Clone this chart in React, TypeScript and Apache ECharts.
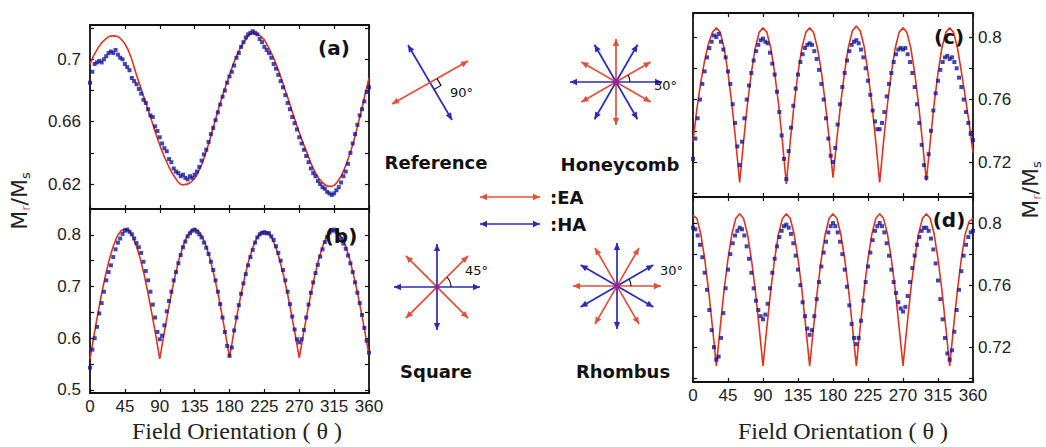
import React, { useEffect, useRef } from "react";
import * as echarts from "echarts";

const W = 1046;
const H = 447;

// ---------------- data ----------------
const THETA_3 = [
  0, 3, 6, 9, 12, 15, 18, 21, 24, 27, 30, 33, 36, 39, 42, 45, 48, 51, 54, 57,
  60, 63, 66, 69, 72, 75, 78, 81, 84, 87, 90, 93, 96, 99, 102, 105, 108, 111, 114, 117,
  120, 123, 126, 129, 132, 135, 138, 141, 144, 147, 150, 153, 156, 159, 162, 165, 168, 171, 174, 177,
  180, 183, 186, 189, 192, 195, 198, 201, 204, 207, 210, 213, 216, 219, 222, 225, 228, 231, 234, 237,
  240, 243, 246, 249, 252, 255, 258, 261, 264, 267, 270, 273, 276, 279, 282, 285, 288, 291, 294, 297,
  300, 303, 306, 309, 312, 315, 318, 321, 324, 327, 330, 333, 336, 339, 342, 345, 348, 351, 354, 357,
  360,
];
const THETA_5 = [
  0, 5, 10, 15, 20, 25, 30, 35, 40, 45, 50, 55, 60, 65, 70, 75, 80, 85, 90, 95,
  100, 105, 110, 115, 120, 125, 130, 135, 140, 145, 150, 155, 160, 165, 170, 175, 180, 185, 190, 195,
  200, 205, 210, 215, 220, 225, 230, 235, 240, 245, 250, 255, 260, 265, 270, 275, 280, 285, 290, 295,
  300, 305, 310, 315, 320, 325, 330, 335, 340, 345, 350, 355, 360,
];
const THETA_10 = [
  0, 10, 20, 30, 40, 50, 60, 70, 80, 90, 100, 110, 120, 130, 140, 150, 160, 170, 180,
  190, 200, 210, 220, 230, 240, 250, 260, 270, 280, 290, 300, 310, 320, 330, 340, 350, 360,
];

// (a) Reference
const RED_A = [
  0.697, 0.707, 0.713, 0.715, 0.713, 0.705, 0.69, 0.675, 0.66, 0.645, 0.633, 0.624, 0.6195, 0.621,
  0.628, 0.641, 0.658, 0.675, 0.69, 0.703, 0.712, 0.7165, 0.715, 0.708, 0.697, 0.683, 0.668, 0.653,
  0.64, 0.628, 0.621, 0.6185, 0.622, 0.632, 0.647, 0.667, 0.688,
];
const BLUE_A = [
  0.685, 0.692, 0.697, 0.698, 0.699, 0.698, 0.7, 0.702, 0.704, 0.705,
  0.704, 0.706, 0.703, 0.701, 0.7, 0.697, 0.695, 0.693, 0.688, 0.686,
  0.684, 0.681, 0.678, 0.674, 0.672, 0.668, 0.664, 0.663, 0.657, 0.654,
  0.65, 0.646, 0.643, 0.641, 0.636, 0.634, 0.63, 0.628, 0.627, 0.625,
  0.626, 0.624, 0.623, 0.625, 0.624, 0.626, 0.628, 0.631, 0.635, 0.639,
  0.642, 0.647, 0.652, 0.656, 0.661, 0.666, 0.671, 0.676, 0.68, 0.685,
  0.689, 0.692, 0.696, 0.701, 0.704, 0.708, 0.711, 0.714, 0.716, 0.717,
  0.718, 0.717, 0.716, 0.713, 0.711, 0.708, 0.706, 0.704, 0.701, 0.697,
  0.694, 0.69, 0.686, 0.682, 0.677, 0.672, 0.668, 0.663, 0.659, 0.655,
  0.65, 0.646, 0.642, 0.638, 0.634, 0.63, 0.627, 0.625, 0.622, 0.62,
  0.618, 0.617, 0.615, 0.614, 0.613, 0.614, 0.616, 0.618, 0.621, 0.625,
  0.628, 0.633, 0.64, 0.646, 0.652, 0.658, 0.664, 0.668, 0.673, 0.679,
  0.682,
];

// (b) Square
const RED_B = [
  0.56, 0.604, 0.646, 0.686, 0.722, 0.753, 0.778, 0.797, 0.808, 0.812,
  0.808, 0.797, 0.778, 0.753, 0.722, 0.686, 0.646, 0.604, 0.56,
  0.604, 0.646, 0.686, 0.722, 0.753, 0.778, 0.797, 0.808, 0.812,
  0.808, 0.796, 0.778, 0.753, 0.722, 0.688, 0.648, 0.606, 0.563,
  0.606, 0.647, 0.686, 0.721, 0.751, 0.775, 0.793, 0.804, 0.808,
  0.804, 0.793, 0.775, 0.75, 0.72, 0.685, 0.646, 0.605, 0.562,
  0.605, 0.647, 0.686, 0.721, 0.752, 0.777, 0.795, 0.806, 0.81,
  0.806, 0.795, 0.778, 0.753, 0.723, 0.689, 0.651, 0.61, 0.568,
];
const BLUE_B = [
  0.543, 0.578, 0.6, 0.622, 0.648, 0.668, 0.69, 0.712, 0.728, 0.741,
  0.757, 0.772, 0.785, 0.793, 0.802, 0.808, 0.81, 0.806, 0.801, 0.793,
  0.784, 0.776, 0.765, 0.748, 0.73, 0.712, 0.69, 0.665, 0.64, 0.612,
  0.598, 0.605, 0.625, 0.652, 0.672, 0.69, 0.712, 0.728, 0.745, 0.761,
  0.776, 0.787, 0.797, 0.803, 0.808, 0.81, 0.806, 0.801, 0.795, 0.785,
  0.775, 0.763, 0.748, 0.732, 0.712, 0.69, 0.666, 0.64, 0.612, 0.585,
  0.566, 0.582, 0.615, 0.64, 0.664, 0.686, 0.706, 0.724, 0.741, 0.757,
  0.771, 0.785, 0.795, 0.801, 0.804, 0.804, 0.803, 0.803, 0.797, 0.79,
  0.778, 0.765, 0.75, 0.732, 0.712, 0.69, 0.666, 0.642, 0.617, 0.598,
  0.592, 0.598, 0.616, 0.64, 0.665, 0.688, 0.708, 0.726, 0.742, 0.758,
  0.772, 0.786, 0.796, 0.804, 0.808, 0.81, 0.806, 0.8, 0.792, 0.783,
  0.773, 0.76, 0.745, 0.728, 0.708, 0.688, 0.668, 0.645, 0.62, 0.595,
  0.572,
];

// (c) Honeycomb
const RED_C = [
  0.733, 0.754, 0.771, 0.785, 0.796, 0.803, 0.806,
  0.803, 0.793, 0.777, 0.757, 0.733, 0.707,
  0.733, 0.757, 0.777, 0.793, 0.803, 0.806,
  0.803, 0.793, 0.777, 0.757, 0.733, 0.706,
  0.733, 0.757, 0.777, 0.793, 0.803, 0.806,
  0.803, 0.793, 0.778, 0.758, 0.735, 0.71,
  0.735, 0.758, 0.778, 0.794, 0.804, 0.807,
  0.804, 0.794, 0.777, 0.757, 0.733, 0.707,
  0.733, 0.757, 0.777, 0.793, 0.803, 0.806,
  0.803, 0.793, 0.777, 0.757, 0.733, 0.708,
  0.733, 0.757, 0.777, 0.793, 0.803, 0.806,
  0.803, 0.793, 0.778, 0.762, 0.745, 0.726,
];
const BLUE_C = [
  0.722, 0.735, 0.748, 0.76, 0.77, 0.778, 0.787, 0.793, 0.797, 0.801,
  0.8, 0.802, 0.797, 0.792, 0.787, 0.778, 0.77, 0.757, 0.745, 0.73,
  0.718, 0.733, 0.748, 0.76, 0.769, 0.777, 0.785, 0.791, 0.795, 0.798,
  0.799, 0.797, 0.796, 0.79, 0.783, 0.776, 0.765, 0.752, 0.737, 0.722,
  0.709, 0.727, 0.742, 0.756, 0.767, 0.776, 0.784, 0.789, 0.793, 0.795,
  0.796, 0.795, 0.791, 0.786, 0.779, 0.77, 0.76, 0.748, 0.735, 0.724,
  0.72, 0.729, 0.744, 0.757, 0.768, 0.777, 0.785, 0.791, 0.795, 0.797,
  0.798, 0.796, 0.792, 0.787, 0.78, 0.772, 0.763, 0.753, 0.746, 0.741,
  0.741, 0.745, 0.752, 0.762, 0.77, 0.777, 0.784, 0.789, 0.792, 0.793,
  0.792, 0.793, 0.789, 0.784, 0.777, 0.768, 0.757, 0.745, 0.731, 0.718,
  0.71, 0.725, 0.74, 0.753, 0.764, 0.772, 0.779, 0.784, 0.787, 0.788,
  0.786, 0.787, 0.784, 0.78, 0.774, 0.768, 0.76, 0.752, 0.745, 0.738,
  0.734,
];

// (d) Rhombus
const RED_D = [
  0.805, 0.803, 0.793, 0.777, 0.757, 0.733, 0.708,
  0.733, 0.757, 0.777, 0.793, 0.803, 0.806,
  0.803, 0.793, 0.777, 0.757, 0.733, 0.708,
  0.733, 0.757, 0.777, 0.793, 0.803, 0.806,
  0.803, 0.793, 0.777, 0.757, 0.733, 0.708,
  0.733, 0.757, 0.777, 0.793, 0.803, 0.806,
  0.803, 0.793, 0.777, 0.757, 0.733, 0.708,
  0.733, 0.757, 0.777, 0.793, 0.803, 0.806,
  0.803, 0.793, 0.777, 0.757, 0.733, 0.708,
  0.733, 0.757, 0.777, 0.793, 0.803, 0.806,
  0.803, 0.793, 0.777, 0.757, 0.733, 0.708,
  0.733, 0.757, 0.777, 0.793, 0.801, 0.803,
];
const BLUE_D = [
  0.797, 0.796, 0.792, 0.786, 0.778, 0.768, 0.757, 0.744, 0.731, 0.72,
  0.712, 0.714, 0.726, 0.742, 0.758, 0.77, 0.78, 0.787, 0.792, 0.795,
  0.797, 0.796, 0.792, 0.785, 0.777, 0.768, 0.758, 0.75, 0.744, 0.74,
  0.738, 0.741, 0.748, 0.758, 0.768, 0.777, 0.785, 0.791, 0.795, 0.798,
  0.799, 0.797, 0.793, 0.787, 0.779, 0.77, 0.76, 0.749, 0.74, 0.732,
  0.728, 0.731, 0.74, 0.751, 0.762, 0.772, 0.781, 0.788, 0.794, 0.798,
  0.8, 0.798, 0.794, 0.788, 0.78, 0.77, 0.759, 0.747, 0.735, 0.726,
  0.722, 0.726, 0.737, 0.75, 0.762, 0.772, 0.781, 0.789, 0.795, 0.798,
  0.8, 0.798, 0.794, 0.787, 0.779, 0.77, 0.762, 0.755, 0.749, 0.745,
  0.743, 0.746, 0.753, 0.762, 0.771, 0.779, 0.786, 0.791, 0.795, 0.797,
  0.797, 0.795, 0.79, 0.783, 0.774, 0.763, 0.751, 0.738, 0.726, 0.716,
  0.712, 0.718, 0.73, 0.744, 0.757, 0.769, 0.779, 0.786, 0.791, 0.794,
  0.795,
];

const X_TICKS_INTERVAL = 45;
const Y_TICKS_A = [0.62, 0.64, 0.66, 0.68, 0.7, 0.72];
const Y_LABELS_A = [0.62, 0.66, 0.7];
const Y_TICKS_B = [0.5, 0.55, 0.6, 0.65, 0.7, 0.75, 0.8];
const Y_LABELS_B = [0.5, 0.6, 0.7, 0.8];
const Y_TICKS_CD = [0.7, 0.72, 0.74, 0.76, 0.78, 0.8];
const Y_LABELS_CD = [0.72, 0.76, 0.8];

// ---------------- styling / layout ----------------
const RED = "#e0321f";
const BLUE = "#16169c";
const AXIS = "#111";
const TICK_FONT = { fontFamily: "Liberation Sans", fontSize: 17, color: "#222" };

const GRIDS = [
  { left: 90, top: 25, width: 279, height: 184 },
  { left: 90, top: 209, width: 279, height: 184 },
  { left: 693, top: 13, width: 280, height: 184 },
  { left: 693, top: 197, width: 280, height: 185 },
];

const PANELS = [
  { redTheta: THETA_10, red: RED_A, blue: BLUE_A, smooth: true, min: 0.604, max: 0.722, ticks: Y_TICKS_A, labels: Y_LABELS_A, labelSide: "left", xLabels: false },
  { redTheta: THETA_5, red: RED_B, blue: BLUE_B, smooth: false, min: 0.494, max: 0.85, ticks: Y_TICKS_B, labels: Y_LABELS_B, labelSide: "left", xLabels: true },
  { redTheta: THETA_5, red: RED_C, blue: BLUE_C, smooth: false, min: 0.6976, max: 0.8154, ticks: Y_TICKS_CD, labels: Y_LABELS_CD, labelSide: "right", xLabels: false },
  { redTheta: THETA_5, red: RED_D, blue: BLUE_D, smooth: false, min: 0.6976, max: 0.8168, ticks: Y_TICKS_CD, labels: Y_LABELS_CD, labelSide: "right", xLabels: true },
];

function xAxisDef(gridIndex: number, position: string, showLabels: boolean) {
  return {
    type: "value",
    gridIndex,
    position,
    min: 0,
    max: 360,
    interval: X_TICKS_INTERVAL,
    axisLine: { show: true, onZero: false, lineStyle: { color: AXIS, width: 1.8 } },
    axisTick: { show: true, inside: true, length: 4, lineStyle: { color: AXIS, width: 1.2 } },
    axisLabel: { show: showLabels, margin: 5, showMinLabel: true, showMaxLabel: true, ...TICK_FONT },
    splitLine: { show: false },
  };
}

function yAxisDef(gridIndex: number, position: string, p: any, showLabels: boolean) {
  return {
    type: "value",
    gridIndex,
    position,
    min: p.min,
    max: p.max,
    axisLine: { show: true, onZero: false, lineStyle: { color: AXIS, width: 1.8 } },
    axisTick: { show: true, inside: true, length: 4, customValues: p.ticks, lineStyle: { color: AXIS, width: 1.2 } },
    axisLabel: { show: showLabels, customValues: p.labels, margin: position === "left" ? 9 : 5, ...TICK_FONT },
    splitLine: { show: false },
  };
}

// ---------------- decorations ----------------
function arrowEls(x1: number, y1: number, x2: number, y2: number, color: string, head = 7, lw = 1.7) {
  const a = Math.atan2(y2 - y1, x2 - x1);
  const hw = head * 0.45;
  const tri = (x: number, y: number, ang: number) => {
    const bx = x - head * Math.cos(ang);
    const by = y - head * Math.sin(ang);
    return [
      [x, y],
      [bx + hw * Math.sin(ang), by - hw * Math.cos(ang)],
      [bx - hw * Math.sin(ang), by + hw * Math.cos(ang)],
    ];
  };
  return [
    { type: "line", shape: { x1, y1, x2, y2 }, style: { stroke: color, lineWidth: lw } },
    { type: "polygon", shape: { points: tri(x2, y2, a) }, style: { fill: color } },
    { type: "polygon", shape: { points: tri(x1, y1, a + Math.PI) }, style: { fill: color } },
  ];
}

function ray(cx: number, cy: number, deg: number, r: number, color: string) {
  const t = (deg * Math.PI) / 180;
  return arrowEls(cx - r * Math.cos(t), cy + r * Math.sin(t), cx + r * Math.cos(t), cy - r * Math.sin(t), color);
}

function angleArc(cx: number, cy: number, deg: number, r = 14) {
  return {
    type: "arc",
    shape: { cx, cy, r, startAngle: (-deg * Math.PI) / 180, endAngle: 0 },
    style: { stroke: "#111", fill: "none", lineWidth: 1.1 },
  };
}

function txt(x: number, y: number, text: string, o: any = {}) {
  return {
    type: "text",
    x,
    y,
    z: 10,
    style: {
      text,
      fontFamily: o.family || "DejaVu Sans",
      fontSize: o.size || 18,
      fontWeight: o.weight || "normal",
      fill: o.color || "#111",
      align: o.align || "center",
      verticalAlign: "middle",
    },
  };
}

const SRED = "#e2503a";
const SBLUE = "#2b2bb8";

function buildGraphics() {
  const els: any[] = [];
  // Reference: crossed axes with right angle
  els.push(...arrowEls(408, 45, 452, 120, SBLUE));
  els.push(...arrowEls(392, 104, 468, 61, SRED));
  els.push({
    type: "polyline",
    shape: { points: [[434, 89.4], [441, 85.4], [437, 78.6]] },
    style: { stroke: "#111", fill: "none", lineWidth: 1.2 },
  });
  els.push(txt(450, 92, "90°", { size: 13, align: "left" }));

  // Honeycomb
  const hc = [616, 82];
  els.push(...ray(hc[0], hc[1], 30, 40, SRED));
  els.push(...ray(hc[0], hc[1], 150, 40, SRED));
  els.push(...ray(hc[0], hc[1], 90, 43, SRED));
  els.push(...ray(hc[0], hc[1], 0, 46, SBLUE));
  els.push(...ray(hc[0], hc[1], 60, 43, SBLUE));
  els.push(...ray(hc[0], hc[1], 120, 43, SBLUE));
  els.push(angleArc(hc[0], hc[1], 30));
  els.push({ type: "circle", shape: { cx: hc[0], cy: hc[1], r: 3 }, style: { fill: "#a0209a" } });
  els.push(txt(654, 85, "30°", { size: 13, align: "left" }));

  // Square
  const sq = [437, 287];
  els.push(...ray(sq[0], sq[1], 45, 44, SRED));
  els.push(...ray(sq[0], sq[1], 135, 44, SRED));
  els.push(...ray(sq[0], sq[1], 0, 43, SBLUE));
  els.push(...ray(sq[0], sq[1], 90, 43, SBLUE));
  els.push(angleArc(sq[0], sq[1], 45));
  els.push({ type: "circle", shape: { cx: sq[0], cy: sq[1], r: 2.5 }, style: { fill: "#a0209a" } });
  els.push(txt(465, 270, "45°", { size: 13, align: "left" }));

  // Rhombus
  const rh = [617, 286];
  els.push(...ray(rh[0], rh[1], 0, 44, SRED));
  els.push(...ray(rh[0], rh[1], 60, 44, SRED));
  els.push(...ray(rh[0], rh[1], 120, 44, SRED));
  els.push(...ray(rh[0], rh[1], 90, 43, SBLUE));
  els.push(...ray(rh[0], rh[1], 30, 42, SBLUE));
  els.push(...ray(rh[0], rh[1], 150, 42, SBLUE));
  els.push(angleArc(rh[0], rh[1], 30));
  els.push({ type: "circle", shape: { cx: rh[0], cy: rh[1], r: 3 }, style: { fill: "#a0209a" } });
  els.push(txt(660, 270, "30°", { size: 13, align: "left" }));

  // Legend arrows
  els.push(...arrowEls(480, 197, 540, 197, SRED));
  els.push(...arrowEls(480, 224, 540, 224, SBLUE));
  els.push(txt(550, 197, ":EA", { size: 18, weight: "bold", align: "left" }));
  els.push(txt(550, 224, ":HA", { size: 18, weight: "bold", align: "left" }));

  // Names
  els.push(txt(436, 162, "Reference", { size: 18, weight: "bold" }));
  els.push(txt(620, 164, "Honeycomb", { size: 18, weight: "bold" }));
  els.push(txt(436, 371, "Square", { size: 18, weight: "bold" }));
  els.push(txt(623, 371, "Rhombus", { size: 18, weight: "bold" }));

  // Panel tags
  els.push(txt(334, 48, "(a)", { size: 20, weight: "bold" }));
  els.push(txt(341, 236, "(b)", { size: 20, weight: "bold" }));
  els.push(txt(949, 37, "(c)", { size: 20, weight: "bold" }));
  els.push(txt(949, 220, "(d)", { size: 20, weight: "bold" }));

  // X titles
  els.push(txt(237, 431, "Field Orientation ( θ )", { size: 24, family: "Liberation Serif", color: "#222" }));
  els.push(txt(843, 431, "Field Orientation ( θ )", { size: 24, family: "Liberation Serif", color: "#222" }));

  // Y titles
  const rich = {
    m: { fontFamily: "DejaVu Sans", fontSize: 22, fill: "#222", lineHeight: 26, verticalAlign: "middle" },
    r: { fontFamily: "DejaVu Sans", fontSize: 13, fill: "#d0607a", lineHeight: 26, verticalAlign: "bottom" },
    s: { fontFamily: "DejaVu Sans", fontSize: 13, fill: "#222", lineHeight: 26, verticalAlign: "bottom" },
  };
  [[19, 201], [1030, 190]].forEach(([x, y]) => {
    els.push({
      type: "text",
      x,
      y,
      rotation: Math.PI / 2,
      z: 10,
      style: { text: "{m|M}{r|r}{m|/M}{s|s}", rich, align: "center", verticalAlign: "middle" },
    });
  });
  return els;
}

function buildOption() {
  const xAxis: any[] = [];
  const yAxis: any[] = [];
  const series: any[] = [];
  PANELS.forEach((p, i) => {
    xAxis.push(xAxisDef(i, "bottom", p.xLabels));
    xAxis.push(xAxisDef(i, "top", false));
    yAxis.push(yAxisDef(i, "left", p, p.labelSide === "left"));
    yAxis.push(yAxisDef(i, "right", p, p.labelSide === "right"));
    series.push({
      type: "line",
      xAxisIndex: 2 * i,
      yAxisIndex: 2 * i,
      data: p.redTheta.map((t: number, k: number) => [t, p.red[k]]),
      symbol: "none",
      showSymbol: false,
      smooth: p.smooth,
      lineStyle: { color: RED, width: 1.6 },
      z: 2,
    });
    series.push({
      type: "scatter",
      xAxisIndex: 2 * i,
      yAxisIndex: 2 * i,
      data: THETA_3.map((t, k) => [t, p.blue[k]]),
      symbol: "rect",
      symbolSize: [4, 4],
      itemStyle: { color: BLUE },
      z: 3,
    });
  });
  return {
    animation: false,
    backgroundColor: "#ffffff",
    grid: GRIDS.map((g) => ({ ...g, containLabel: false })),
    xAxis,
    yAxis,
    series,
    graphic: { elements: buildGraphics() },
  };
}

export default function App() {
  const ref = useRef<HTMLDivElement>(null);
  useEffect(() => {
    if (!ref.current) return;
    const chart = echarts.init(ref.current, null, { renderer: "svg", width: W, height: H });
    chart.setOption(buildOption() as any);
    return () => chart.dispose();
  }, []);
  return (
    <div
      ref={ref}
      style={{ position: "absolute", left: 0, top: 0, width: W, height: H, background: "#fff" }}
    />
  );
}
